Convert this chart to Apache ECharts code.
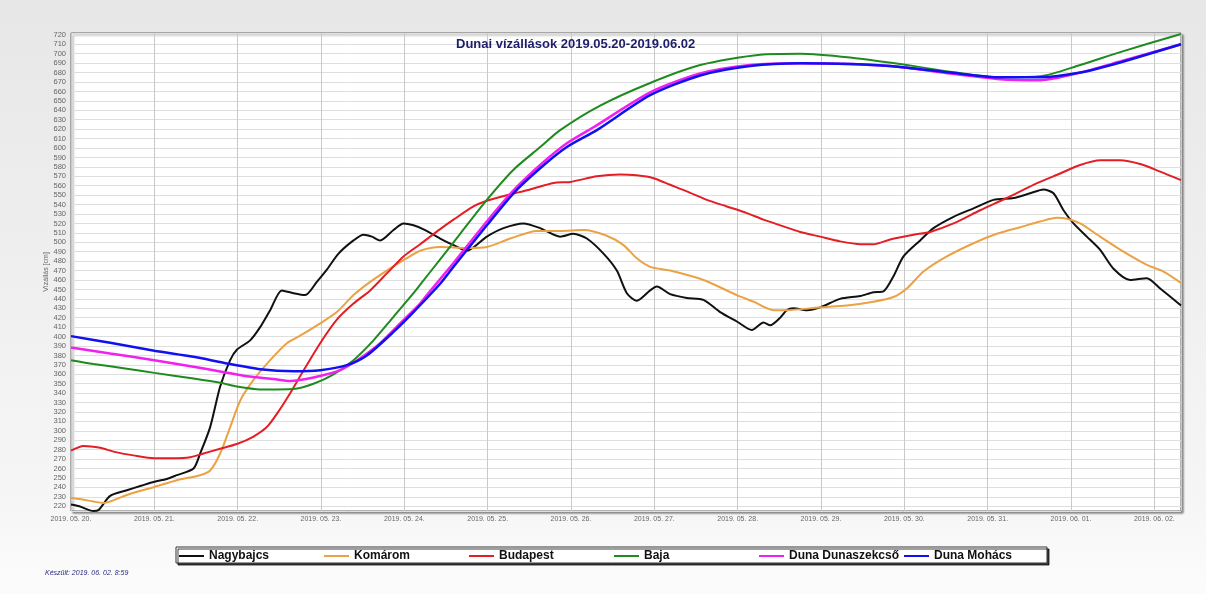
<!DOCTYPE html>
<html>
<head>
<meta charset="utf-8">
<title>Dunai vízállások</title>
<script src="https://cdn.jsdelivr.net/npm/echarts@6/dist/echarts.min.js"></script>
<style>
  html, body { margin: 0; padding: 0; }
  #chart { width: 1206px; height: 594px; }
</style>
</head>
<body>
<div id="chart"></div>
<script>
// napok a 2019.05.20 00:00 óta, vízállás cm-ben
const dayLabels = ['2019. 05. 20.', '2019. 05. 21.', '2019. 05. 22.', '2019. 05. 23.', '2019. 05. 24.',
  '2019. 05. 25.', '2019. 05. 26.', '2019. 05. 27.', '2019. 05. 28.', '2019. 05. 29.',
  '2019. 05. 30.', '2019. 05. 31.', '2019. 06. 01.', '2019. 06. 02.'];

const stations = ['Nagybajcs', 'Komárom', 'Budapest', 'Baja', 'Duna Dunaszekcső', 'Duna Mohács'];
const colors = ['#111111', '#eaa244', '#e31e24', '#1f8a1f', '#f020f0', '#1010f0'];

const nagybajcs = [[0,222],[0.1,220],[0.27,215],[0.33,216],[0.47,231],[0.67,237],[0.85,242],[1.0,246],
  [1.15,249],[1.27,253],[1.47,260],[1.55,276],[1.67,304],[1.79,347],[1.91,375],[1.99,386],[2.15,396],
  [2.27,410],[2.39,428],[2.53,449],[2.67,446],[2.81,444],[2.95,458],[3.07,471],[3.21,488],[3.39,502],
  [3.51,508],[3.61,506],[3.71,502],[3.87,513],[3.99,520],[4.11,518],[4.25,513],[4.43,504],[4.59,497],
  [4.75,491],[4.99,506],[5.19,515],[5.43,520],[5.63,515],[5.87,506],[6.03,509],[6.19,504],[6.39,488],
  [6.55,470],[6.67,446],[6.79,438],[6.95,449],[7.03,453],[7.19,445],[7.39,441],[7.59,439],[7.79,426],
  [7.99,416],[8.17,407],[8.31,415],[8.39,412],[8.51,420],[8.59,428],[8.67,430],[8.83,428],[8.99,431],
  [9.23,440],[9.47,443],[9.63,447],[9.75,448],[9.87,464],[9.99,485],[10.19,502],[10.35,515],[10.59,527],
  [10.83,536],[11.07,545],[11.31,547],[11.51,552],[11.67,556],[11.79,552],[11.91,534],[12.03,520],
  [12.19,506],[12.35,492],[12.51,472],[12.71,460],[12.91,462],[13.07,451],[13.32,433]];

const komarom = [[0,229],[0.15,227],[0.27,225],[0.39,223.5],[0.67,232],[1.0,240.5],[1.27,247.6],[1.55,253],
  [1.67,258],[1.79,276],[1.91,304],[2.03,332],[2.19,354],[2.39,375],[2.59,393],[2.75,401],[2.99,414],
  [3.19,426],[3.39,444],[3.59,458],[3.79,470],[3.99,481],[4.19,491],[4.43,495],[4.75,494],[4.99,495],
  [5.27,504],[5.59,512],[5.87,512],[6.15,513],[6.43,507],[6.63,497],[6.79,483],[6.95,474],[7.19,470],
  [7.59,460],[7.99,444],[8.19,437],[8.43,428],[8.59,428],[8.99,431],[9.31,433],[9.63,437],[9.87,442],
  [10.03,451],[10.23,469],[10.51,485],[10.83,499],[11.11,509],[11.39,516],[11.63,522],[11.83,526],
  [11.95,525],[12.11,520],[12.35,506],[12.63,490],[12.91,476],[13.11,469],[13.32,457]];

const budapest = [[0,279],[0.15,284],[0.35,282],[0.51,278],[0.75,274],[1.0,271],[1.23,271],[1.43,272],
  [1.59,276],[1.79,281],[1.99,286],[2.19,294],[2.35,304],[2.47,318],[2.63,340],[2.79,364],[2.99,393],
  [3.19,418],[3.39,435],[3.59,449],[3.79,467],[3.99,485],[4.19,498],[4.43,514],[4.59,524],[4.83,538],
  [4.99,544],[5.23,550],[5.51,556],[5.79,563],[5.99,564],[6.31,570],[6.59,572],[6.79,571],[6.99,568],
  [7.19,561],[7.39,554],[7.63,545],[7.87,538],[8.11,531],[8.31,524],[8.51,518],[8.75,511],[8.99,506],
  [9.23,501],[9.47,498],[9.63,498],[9.83,503],[10.11,508],[10.31,511],[10.59,520],[10.91,534],
  [11.23,547],[11.55,561],[11.87,573],[12.11,582],[12.35,587],[12.59,587],[12.83,583],[13.07,575],[13.32,566]];

const baja = [[0,375],[0.27,371],[0.67,366],[1.0,361.5],[1.47,355.5],[1.79,351],[1.99,347],[2.27,344],
  [2.67,344.5],[2.91,350],[3.15,360],[3.39,375],[3.63,396],[3.87,421],[4.11,446],[4.19,455],[4.43,482],
  [4.67,509],[4.99,545],[5.31,577],[5.63,601],[5.87,619],[6.35,645],[6.95,669],[7.55,688],[8.27,699],
  [8.75,700],[9.35,696],[9.95,689],[10.55,681],[11.15,675],[11.63,676],[12.11,688],[12.6,702],[13.32,721]];

const dunaszekcso = [[0,388.5],[0.47,382],[1.0,375],[1.47,368],[1.79,363],[2.11,358],[2.43,355],[2.63,353],
  [2.91,356.6],[3.23,364.4],[3.47,377],[3.71,393],[3.99,417.5],[4.19,435],[4.27,444],[4.59,478],
  [4.99,522],[5.31,555],[5.63,582],[5.95,605],[6.27,622],[6.95,659],[7.55,679],[8.15,688],[8.75,690],
  [9.35,689],[9.95,686],[10.55,679],[11.15,673],[11.63,672],[12.11,680],[12.6,692],[13.32,710]];

const mohacs = [[0,400.5],[0.47,393.4],[1.0,385],[1.47,378.5],[1.87,371.5],[2.27,365.4],[2.67,363.3],
  [2.99,364.4],[3.31,369.7],[3.55,380],[3.87,405],[4.11,426],[4.43,456],[4.59,474],[4.99,518],[5.31,552],
  [5.63,578.5],[5.95,601],[6.31,619],[6.95,656],[7.55,677],[8.15,687],[8.75,690],[9.35,689],[9.95,686],
  [10.55,680],[11.15,675],[11.63,675],[12.11,680],[12.6,691],[13.32,710]];

const seriesData = [nagybajcs, komarom, budapest, baja, dunaszekcso, mohacs];

const chart = echarts.init(document.getElementById('chart'));

// egy jelmagyarázat-elem minden állomásnak, azonos távolságra
const legends = stations.map(function (name, i) {
  return {
    data: [name],
    left: 179 + i * 145,
    top: 550,
    padding: 0,
    itemWidth: 25,
    itemHeight: 2,
    icon: 'rect',
    textStyle: { fontFamily: 'Liberation Sans', fontSize: 12, fontWeight: 'bold', color: '#111' },
    selectedMode: false
  };
});

const option = {
  backgroundColor: {
    type: 'linear', x: 0, y: 0, x2: 0, y2: 1,
    colorStops: [{ offset: 0, color: '#e7e7e7' }, { offset: 0.85, color: '#f6f6f6' }, { offset: 1, color: '#fcfcfc' }]
  },
  animation: false,
  color: colors,
  title: {
    text: 'Dunai vízállások 2019.05.20-2019.06.02',
    left: 451,
    top: 33,
    textStyle: { fontFamily: 'Liberation Sans', fontSize: 13, fontWeight: 'bold', color: '#1d1d6b' }
  },
  grid: {
    left: 71, right: 25, top: 33, bottom: 83,
    show: true,
    backgroundColor: '#ffffff',
    borderColor: '#666666',
    borderWidth: 1,
    shadowColor: 'rgba(0,0,0,0.45)',
    shadowBlur: 2,
    shadowOffsetX: 2,
    shadowOffsetY: 2
  },
  legend: legends,
  xAxis: {
    type: 'value',
    min: 0,
    max: 13.32,
    interval: 1,
    axisLine: { show: false },
    axisTick: { show: false },
    axisLabel: {
      fontFamily: 'Liberation Sans', fontSize: 7, color: '#666', margin: 5,
      showMaxLabel: false,
      formatter: function (v) {
        return Number.isInteger(v) ? (dayLabels[v] || '') : '';
      }
    },
    splitLine: { show: true, lineStyle: { color: '#c9c9c9', width: 1 } }
  },
  yAxis: {
    type: 'value',
    min: 215,
    max: 722,
    splitNumber: 50,
    name: 'Vízállás [cm]',
    nameLocation: 'middle',
    nameGap: 21,
    nameMoveOverlap: false,
    nameTextStyle: { fontFamily: 'Liberation Sans', fontSize: 7, color: '#666' },
    axisLine: { show: false },
    axisTick: { show: false },
    axisLabel: {
      fontFamily: 'Liberation Sans', fontSize: 7.5, color: '#666', margin: 5,
      formatter: function (v) { return v % 10 === 0 ? String(v) : ''; }
    },
    splitLine: { show: true, lineStyle: { color: '#dedede', width: 1 } }
  },
  graphic: [{
    type: 'rect',
    z: -1,
    shape: { x: 176, y: 547, width: 871, height: 16 },
    style: {
      fill: '#ffffff', stroke: '#333333', lineWidth: 1,
      shadowColor: 'rgba(0,0,0,0.75)', shadowBlur: 0, shadowOffsetX: 2, shadowOffsetY: 2
    }
  }, {
    type: 'text',
    left: 45,
    top: 570,
    style: {
      text: 'Készült: 2019. 06. 02. 8:59',
      fontFamily: 'Liberation Sans', fontSize: 7, fontStyle: 'italic', fill: '#2a2a80'
    }
  }],
  series: stations.map(function (name, i) {
    return {
      name: name,
      type: 'line',
      data: seriesData[i],
      showSymbol: false,
      smooth: 0.25,
      lineStyle: { width: i >= 4 ? 2.5 : 2, color: colors[i] },
      itemStyle: { color: colors[i] }
    };
  })
};

chart.setOption(option);
</script>
</body>
</html>
